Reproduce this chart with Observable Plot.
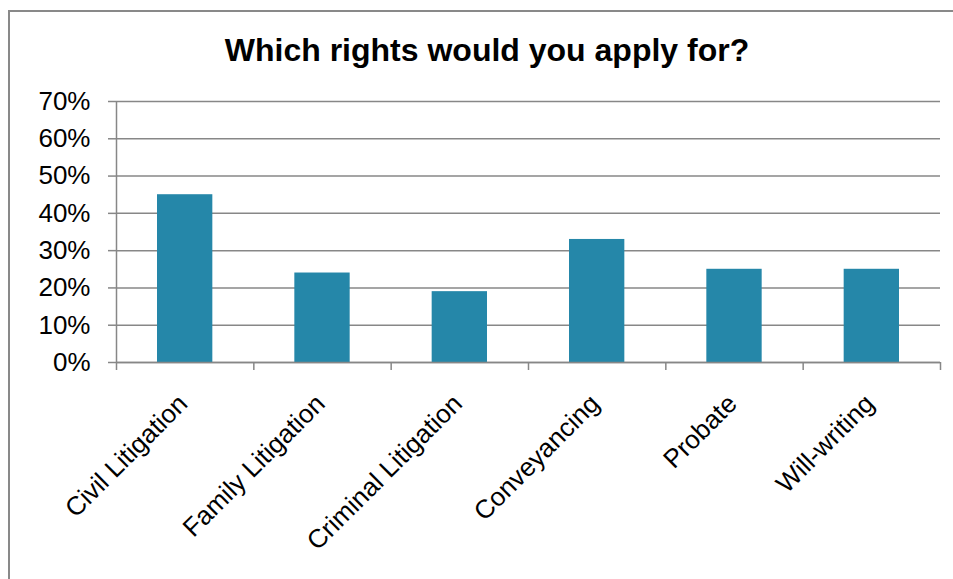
<!DOCTYPE html>
<html><head><meta charset="utf-8">
<script src="https://cdn.jsdelivr.net/npm/d3@7"></script>
<script src="https://cdn.jsdelivr.net/npm/@observablehq/plot@0.6"></script>
<style>
html,body{margin:0;padding:0;background:#fff;width:953px;height:579px;overflow:hidden;font-family:"Liberation Sans",Arial,sans-serif}
#wrap{position:relative;width:953px;height:579px}
#frame{position:absolute;left:8px;top:10px;width:1000px;height:1000px;border:2px solid #898989;box-sizing:border-box}
#title{position:absolute;left:0;width:974px;top:34px;line-height:32px;text-align:center;font-weight:bold;font-size:32px;color:#000}
#chart{position:absolute;left:0;top:0}
</style>
</head><body>
<div id="wrap"><div id="frame"></div><div id="chart"></div><div id="title">Which rights would you apply for?</div></div>
<script>
const categories = ["Civil Litigation","Family Litigation","Criminal Litigation","Conveyancing","Probate","Will-writing"];
const values = [0.45,0.24,0.19,0.33,0.25,0.25];
const yTicks = [0,0.1,0.2,0.3,0.4,0.5,0.6,0.7];

const data = categories.map((c,i)=>({category:c, index:i, value:values[i]}));
const boundaries = d3.range(categories.length+1);
const centers = categories.map((c,i)=>i+0.5);
const gray = "#878787";

const chart = Plot.plot({
  width:953, height:579,
  marginLeft:116, marginRight:13, marginTop:101, marginBottom:217,
  style:{fontFamily:"'Liberation Sans', Arial, sans-serif", background:"transparent", color:"#000", overflow:"visible"},
  x:{type:"linear", domain:[0,categories.length], label:null},
  y:{domain:[0,0.7], label:null},
  marks:[
    Plot.gridY(yTicks, {stroke:gray, strokeOpacity:1, strokeWidth:1.5}),
    Plot.rectY(data, {x1:"index", x2:d=>d.index+1, y:"value", fill:"#2587a9", insetLeft:41, insetRight:41}),
    Plot.ruleX([0], {stroke:gray, strokeWidth:1.5}),
    Plot.ruleY([0], {stroke:gray, strokeWidth:1.5}),
    Plot.axisY({ticks:yTicks, tickSize:8, tickPadding:18, tickFormat:d3.format(".0%"), fontSize:26, stroke:gray, strokeWidth:1.5, strokeOpacity:1, fill:"#000", label:null}),
    Plot.axisX({ticks:boundaries, tickSize:8, tickFormat:()=>"", stroke:gray, strokeWidth:1.5, strokeOpacity:1, label:null}),
    Plot.axisX({ticks:centers, tickSize:0, tickPadding:37, tickRotate:-45, tickFormat:d=>categories[Math.floor(d)], fontSize:26, fill:"#000", label:null, dx:-2})
  ]
});
document.getElementById("chart").appendChild(chart);
</script>
</body></html>
